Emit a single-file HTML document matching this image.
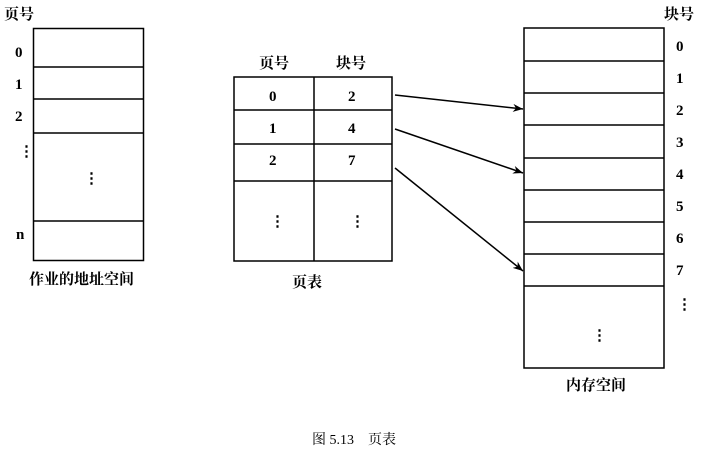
<!DOCTYPE html>
<html><head><meta charset="utf-8"><style>
body{margin:0;background:#fff}
</style></head><body>
<svg width="709" height="455" xmlns="http://www.w3.org/2000/svg" font-family="Liberation Serif, Noto Serif CJK SC, serif" fill="#000">
<defs><marker id="a" markerWidth="10" markerHeight="8" refX="10" refY="4" orient="auto" markerUnits="userSpaceOnUse"><path d="M0,0 L10,4 L0,8 L3,4 Z"/></marker></defs>
<g stroke="#000" stroke-width="1.5" fill="none">
<rect x="33.5" y="28.5" width="110" height="232"/>
<line x1="33" y1="67" x2="143" y2="67"/><line x1="33" y1="99" x2="143" y2="99"/><line x1="33" y1="133" x2="143" y2="133"/><line x1="33" y1="221" x2="143" y2="221"/>
<rect x="234" y="77" width="158" height="184"/>
<line x1="314" y1="77" x2="314" y2="261"/>
<line x1="234" y1="110" x2="392" y2="110"/><line x1="234" y1="144" x2="392" y2="144"/><line x1="234" y1="181" x2="392" y2="181"/>
<rect x="524" y="28" width="140" height="340"/>
<line x1="524" y1="61" x2="664" y2="61"/><line x1="524" y1="93" x2="664" y2="93"/><line x1="524" y1="125" x2="664" y2="125"/><line x1="524" y1="158" x2="664" y2="158"/><line x1="524" y1="190" x2="664" y2="190"/><line x1="524" y1="222" x2="664" y2="222"/><line x1="524" y1="254" x2="664" y2="254"/><line x1="524" y1="286" x2="664" y2="286"/>
<line x1="395" y1="95" x2="523" y2="109" marker-end="url(#a)"/>
<line x1="395" y1="129" x2="523" y2="173" marker-end="url(#a)"/>
<line x1="395" y1="168" x2="523" y2="271" marker-end="url(#a)"/>
</g>
<g font-size="15" font-weight="bold">
<text x="4" y="19">页号</text>
<text x="15" y="57">0</text><text x="15" y="89">1</text><text x="15" y="121">2</text><text x="16" y="239">n</text>
<text x="19" y="156">⋮</text><text x="84" y="183">⋮</text>
<text x="29" y="284">作业的地址空间</text>
<text x="259" y="68">页号</text><text x="336" y="68">块号</text>
<text x="269" y="101">0</text><text x="348" y="101">2</text>
<text x="269" y="133">1</text><text x="348" y="133">4</text>
<text x="269" y="165">2</text><text x="348" y="165">7</text>
<text x="270" y="226">⋮</text><text x="350" y="226">⋮</text>
<text x="292" y="287">页表</text>
<text x="664" y="19">块号</text>
<text x="676" y="51">0</text><text x="676" y="83">1</text><text x="676" y="115">2</text><text x="676" y="147">3</text><text x="676" y="179">4</text><text x="676" y="211">5</text><text x="676" y="243">6</text><text x="676" y="275">7</text>
<text x="677" y="309">⋮</text><text x="592" y="340">⋮</text>
<text x="566" y="390">内存空间</text>
</g>
<text x="354" y="444" font-size="14" text-anchor="middle">图 5.13　页表</text>
</svg>
</body></html>
